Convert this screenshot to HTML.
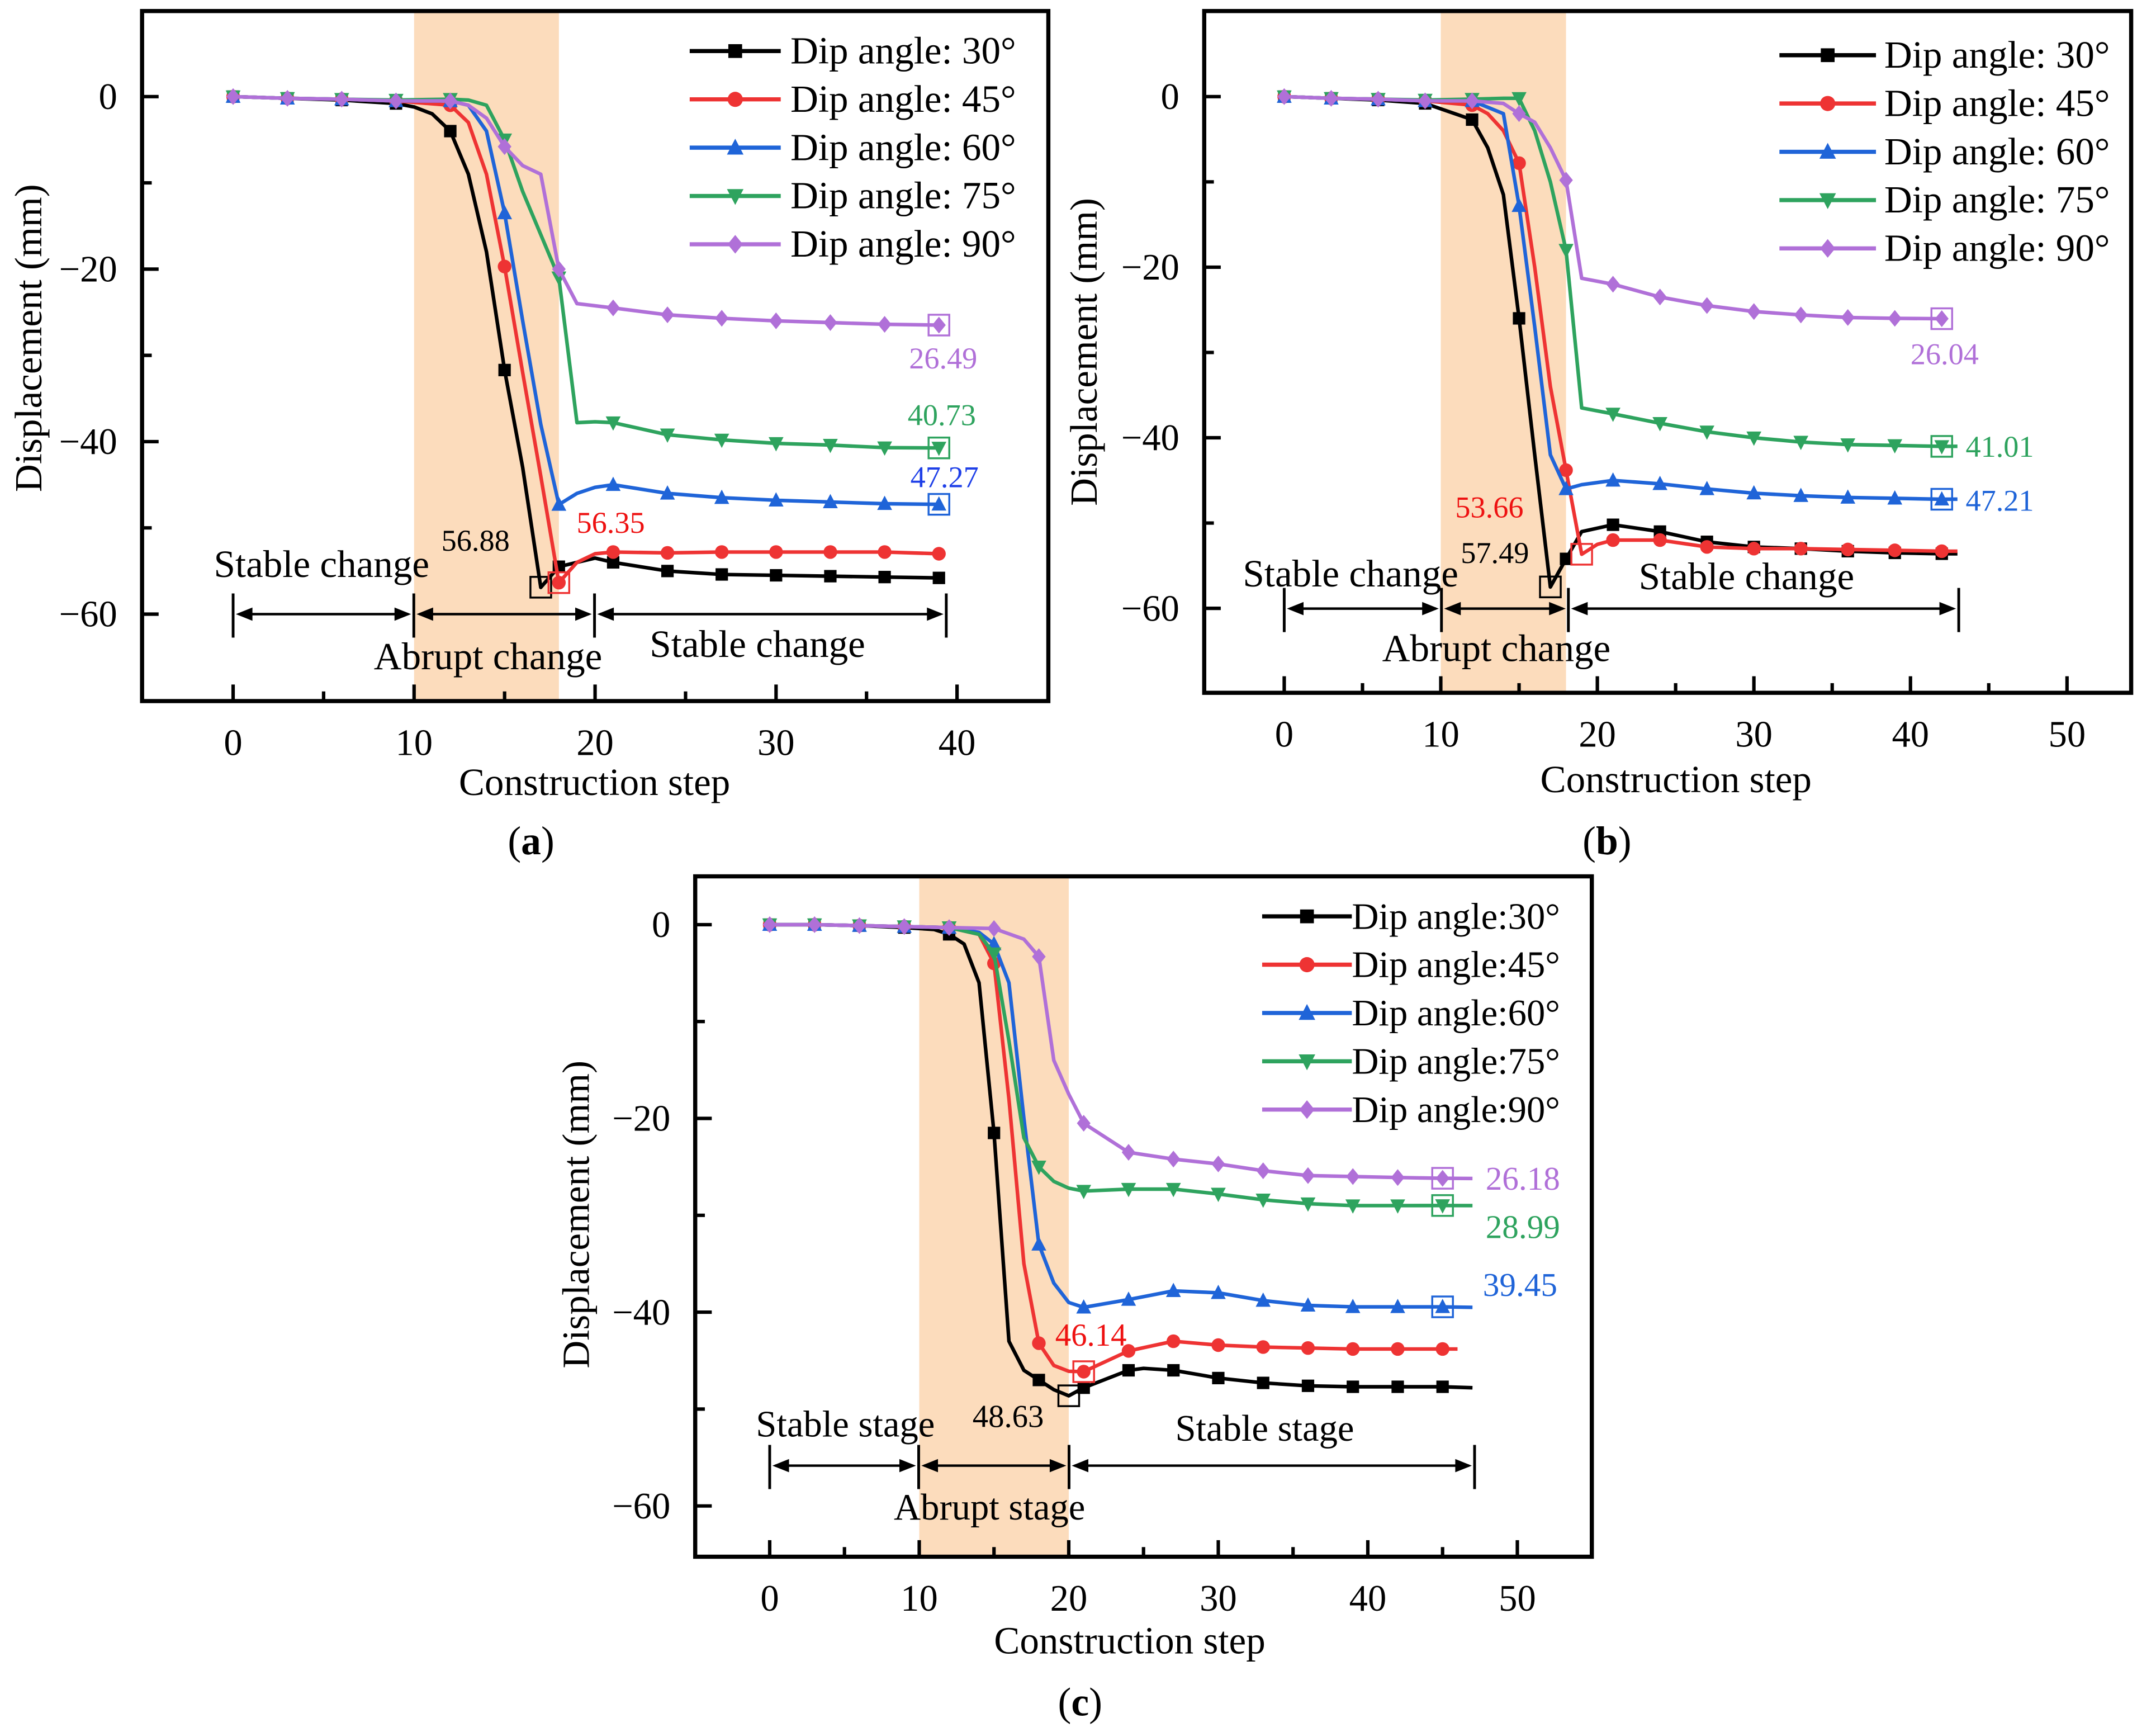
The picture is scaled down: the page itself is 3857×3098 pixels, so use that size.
<!DOCTYPE html>
<html><head><meta charset="utf-8"><style>
html,body{margin:0;padding:0;background:#fff;}
svg{display:block;font-family:"Liberation Serif",serif;}
text{font-family:"Liberation Serif",serif;}
</style></head><body>
<svg id="root" width="3857" height="3098" viewBox="0 0 1563 1255" preserveAspectRatio="none" font-family="Liberation Serif, serif" xmlns="http://www.w3.org/2000/svg"></svg>
<script>
// ---------- DATA ----------
const angleNames = ["30", "45", "60", "75", "90"];
const seriesColors = ["#000000", "#ee3333", "#1f64d8", "#2ea35e", "#b070d8"];
const markerShapes = ["square", "circle", "up", "down", "diamond"];

// panel a
const aSteps30 = [0,3,6,9,10,11,12,13,14,15,16,17,18,19,20,21,24,27,30,33,36,39];
const aVals30  = [0,-0.2,-0.4,-0.8,-1.2,-2,-4,-9,-18,-31.7,-43,-56.9,-54.5,-54,-53.5,-54,-55,-55.4,-55.5,-55.6,-55.7,-55.8];
const aSteps45 = [0,3,6,9,12,13,14,15,16,17,18,19,20,21,24,27,30,33,36,39];
const aVals45  = [0,-0.2,-0.3,-0.5,-1,-3,-9,-19.7,-32,-44,-56.35,-54,-53,-52.8,-52.9,-52.8,-52.8,-52.8,-52.8,-53];
const aSteps60 = [0,3,6,9,12,13,14,15,16,17,18,19,20,21,24,27,30,33,36,39];
const aVals60  = [0,-0.2,-0.3,-0.5,-0.5,-1,-4,-13.5,-26,-38,-47.3,-46,-45.3,-45,-46,-46.5,-46.8,-47,-47.2,-47.27];
const aSteps75 = [0,3,6,9,12,13,14,15,16,17,18,19,20,21,24,27,30,33,36,39];
const aVals75  = [0,-0.2,-0.3,-0.4,-0.3,-0.4,-1,-5,-11,-16,-21,-37.8,-37.7,-37.8,-39.2,-39.8,-40.2,-40.4,-40.7,-40.73];
const aSteps90 = [0,3,6,9,12,13,14,15,16,17,18,19,21,24,27,30,33,36,39];
const aVals90  = [0,-0.2,-0.3,-0.5,-0.5,-1,-2.5,-5.8,-8,-9,-20,-24,-24.5,-25.3,-25.7,-26,-26.2,-26.4,-26.49];

// panel b
const bSteps30 = [0,3,6,9,12,13,14,15,16,17,18,19,21,24,27,30,33,36,39,42,43];
const bVals30  = [0,-0.2,-0.4,-0.8,-2.7,-6,-11.5,-26,-42,-57.5,-54.2,-51,-50.2,-51,-52.2,-52.8,-53,-53.3,-53.5,-53.6,-53.6];
const bSteps45 = [0,3,6,9,12,13,14,15,16,17,18,19,20,21,24,27,30,33,36,39,42,43];
const bVals45  = [0,-0.2,-0.3,-0.5,-1,-2,-4,-7.8,-20,-34,-43.8,-53.66,-52.5,-52,-52,-52.8,-53,-53,-53.1,-53.2,-53.3,-53.3];
const bSteps60 = [0,3,6,9,12,14,15,16,17,18,19,21,24,27,30,33,36,39,42,43];
const bVals60  = [0,-0.2,-0.3,-0.5,-0.5,-2,-12.8,-27,-42,-46,-45.5,-45,-45.4,-46,-46.5,-46.8,-47,-47.1,-47.21,-47.2];
const bSteps75 = [0,3,6,9,12,14,15,16,17,18,19,21,24,27,30,33,36,39,42,43];
const bVals75  = [0,-0.2,-0.3,-0.4,-0.3,-0.2,-0.2,-4,-10,-18,-36.5,-37.2,-38.3,-39.3,-40,-40.5,-40.8,-40.9,-41.01,-41];
const bSteps90 = [0,3,6,9,12,14,15,16,17,18,19,21,24,27,30,33,36,39,42];
const bVals90  = [0,-0.2,-0.3,-0.5,-0.5,-0.8,-2,-3,-6,-9.8,-21.3,-22,-23.5,-24.5,-25.2,-25.6,-25.9,-26,-26.04];

// panel c
const cSteps30 = [0,3,6,9,11,12,13,14,15,16,17,18,19,20,21,24,25,27,30,33,36,39,42,45,47];
const cVals30  = [0,0,-0.1,-0.3,-0.5,-1,-2,-6,-21.5,-43,-46,-47,-48,-48.63,-47.8,-46,-45.8,-46,-46.8,-47.3,-47.6,-47.7,-47.7,-47.7,-47.8];
const cSteps45 = [0,3,6,9,12,14,15,16,17,18,19,20,21,24,27,30,33,36,39,42,45,46];
const cVals45  = [0,0,-0.1,-0.2,-0.3,-1,-4,-18,-35,-43.2,-45.5,-46.1,-46.14,-44,-43,-43.4,-43.6,-43.7,-43.8,-43.8,-43.8,-43.8];
const cSteps60 = [0,3,6,9,12,14,15,16,17,18,19,20,21,24,27,30,33,36,39,42,45,47];
const cVals60  = [0,0,-0.1,-0.2,-0.3,-0.8,-2,-6,-20,-33,-37,-39,-39.5,-38.7,-37.8,-38,-38.8,-39.3,-39.45,-39.45,-39.45,-39.5];
const cSteps75 = [0,3,6,9,12,14,15,16,17,18,19,20,21,24,27,30,33,36,39,42,45,47];
const cVals75  = [0,0,-0.1,-0.2,-0.3,-1,-3,-12,-22,-25,-26.5,-27.2,-27.5,-27.3,-27.3,-27.8,-28.4,-28.8,-29,-29,-28.99,-29];
const cSteps90 = [0,3,6,9,12,15,17,18,19,20,21,24,27,30,33,36,39,42,45,47];
const cVals90  = [0,0,-0.1,-0.2,-0.3,-0.4,-1.5,-3.3,-14,-17.5,-20.5,-23.5,-24.2,-24.7,-25.4,-25.9,-26,-26.1,-26.18,-26.2];

const aXTicks = [0,10,20,30,40];
const bXTicks = [0,10,20,30,40,50];
const cXTicks = [0,10,20,30,40,50];
const yTicks = [0,-20,-40,-60];
const yMinorTicks = [-10,-30,-50];

// ---------- RENDER ----------
const NS = "http://www.w3.org/2000/svg";
const root = document.getElementById("root");
function mk(tag, parent, attrs){ const e=document.createElementNS(NS,tag); for(const k in attrs) e.setAttribute(k,attrs[k]); parent.appendChild(e); return e; }
function txt(parent, s, x, y, size, fill, anchor, name){
  const t=mk("text",parent,{x:x,y:y,"font-size":size,fill:fill||"#000","text-anchor":anchor||"start","font-family":"Liberation Serif, serif"});
  t.textContent=s;
  
  
  return t;
}
function marker(g, shape, x, y, c, s){
  let m;
  if(shape==="square") m=mk("rect",g,{x:x-s,y:y-s,width:2*s,height:2*s,fill:c});
  else if(shape==="circle") m=mk("circle",g,{cx:x,cy:y,r:s*1.1,fill:c});
  else if(shape==="up") m=mk("polygon",g,{points:`${x},${y-s*1.3} ${x-s*1.2},${y+s} ${x+s*1.2},${y+s}`,fill:c});
  else if(shape==="down") m=mk("polygon",g,{points:`${x},${y+s*1.3} ${x-s*1.2},${y-s} ${x+s*1.2},${y-s}`,fill:c});
  else m=mk("polygon",g,{points:`${x},${y-s*1.35} ${x+s*1.1},${y} ${x},${y+s*1.35} ${x-s*1.1},${y}`,fill:c});
  
  
}
function arrow(g, x1, x2, y){
  const h=6;
  mk("line",g,{x1:x1+4,y1:y,x2:x2-4,y2:y,stroke:"#000","stroke-width":1.8});
  mk("polygon",g,{points:`${x1+2},${y} ${x1+2+h*2},${y-h*0.8} ${x1+2+h*2},${y+h*0.8}`,fill:"#000"});
  mk("polygon",g,{points:`${x2-2},${y} ${x2-2-h*2},${y-h*0.8} ${x2-2-h*2},${y+h*0.8}`,fill:"#000"});
}

function panel(P){
  const g=mk("g",root,{});
  
  
  const X=v=>P.x0+v*P.sx, Y=v=>P.y0-v*P.sy;
  const sh=mk("rect",g,{x:X(P.shade[0]),y:P.top,width:X(P.shade[1])-X(P.shade[0]),height:P.bot-P.top,fill:"#fcdcbc"});
  
  
  const ax=mk("g",g,{});
  
  
  P.xt.forEach((v,i)=>{
    mk("line",ax,{x1:X(v),y1:P.bot,x2:X(v),y2:P.bot-12,stroke:"#000","stroke-width":2.5});
    if(i<P.xt.length-1) mk("line",ax,{x1:X(v+5),y1:P.bot,x2:X(v+5),y2:P.bot-7,stroke:"#000","stroke-width":2.5});
    txt(ax,String(v),X(v),P.bot+39,27,"#000","middle","x-tick-label");
  });
  yTicks.forEach(v=>{
    mk("line",ax,{x1:P.left,y1:Y(v),x2:P.left+12,y2:Y(v),stroke:"#000","stroke-width":2.5});
    txt(ax,v===0?"0":"\u2212"+(-v),P.left-18,Y(v)+9,27,"#000","end","y-tick-label");
  });
  yMinorTicks.forEach(v=>{
    mk("line",ax,{x1:P.left,y1:Y(v),x2:P.left+7,y2:Y(v),stroke:"#000","stroke-width":2.5});
  });
  P.series.forEach((s,i)=>{
    const sg=mk("g",g,{});
    
    
    const pts=s[0].map((st,j)=>X(st)+","+Y(s[1][j])).join(" ");
    mk("polyline",sg,{points:pts,fill:"none",stroke:seriesColors[i],"stroke-width":2.6,"stroke-linejoin":"round"});
    s[0].forEach((st,j)=>{ if(st%3===0) marker(sg,markerShapes[i],X(st),Y(s[1][j]),seriesColors[i],4.5); });
  });
  P.boxes.forEach(b=>{
    const r=mk("rect",g,{x:X(b[0])-7.5,y:Y(b[1])-7.5,width:15,height:15,fill:"none",stroke:seriesColors[b[2]],"stroke-width":1.4});
    
    
  });
  const fr=mk("rect",g,{x:P.left,y:P.top,width:P.right-P.left,height:P.bot-P.top,fill:"none",stroke:"#000","stroke-width":3});
  
  
  const lg=mk("g",g,{});
  
  
  angleNames.forEach((n,i)=>{
    const y=P.leg.y+i*P.leg.dy;
    const eg=mk("g",lg,{});
    
    
    mk("line",eg,{x1:P.leg.x1,y1:y,x2:P.leg.x2,y2:y,stroke:seriesColors[i],"stroke-width":3});
    marker(eg,markerShapes[i],(P.leg.x1+P.leg.x2)/2,y,seriesColors[i],5);
    txt(eg,"Dip angle:"+P.leg.sp+n+"\u00b0",P.leg.tx,y+9,P.leg.fs,"#000","start","legend-label");
  });
  const sg=mk("g",g,{});
  
  
  P.bars.forEach(bx=>mk("line",sg,{x1:bx,y1:P.arY-15,x2:bx,y2:P.arY+17,stroke:"#000","stroke-width":2}));
  for(let i=0;i<P.bars.length-1;i++) arrow(sg,P.bars[i],P.bars[i+1],P.arY);
  P.labels.forEach(l=>txt(g,l[0],l[1],l[2],l[3],l[4],"start",l[5]));
  txt(g,"Construction step",P.xtitle[0],P.xtitle[1],28,"#000","middle","x-axis-title");
  const yt=txt(g,"Displacement (mm)",0,0,28,"#000","middle","y-axis-title");
  yt.setAttribute("transform",`translate(${P.ytitle[0]},${P.ytitle[1]}) rotate(-90)`);
  const cap=mk("text",g,{x:P.cap[0],y:P.cap[1],"font-size":29,"text-anchor":"middle","font-family":"Liberation Serif, serif"});
  
  
  cap.innerHTML='(<tspan font-weight="bold">'+P.cap[2]+'</tspan>)';
}

panel({name:"panel-a",left:103,right:760,top:8,bot:508,x0:169,sx:13.12,y0:70,sy:6.25,shade:[10,18],xt:aXTicks,
  series:[[aSteps30,aVals30],[aSteps45,aVals45],[aSteps60,aVals60],[aSteps75,aVals75],[aSteps90,aVals90]],
  boxes:[[17,-56.88,0],[18,-56.35,1],[39,-26.49,4],[39,-40.73,3],[39,-47.27,2]],
  leg:{x1:500,x2:566,tx:573,y:37,dy:35,fs:28,sp:" "},
  bars:[169,300,431,686],arY:445,
  labels:[["Stable change",155,418,28,"#000","stage-label"],["Abrupt change",271,485,28,"#000","stage-label"],["Stable change",471,476,28,"#000","stage-label"],
    ["56.88",320,399,22,"#000","value-label"],["56.35",418,386,22,"#ee1111","value-label"],["26.49",659,267,22,"#b070d8","value-label"],["40.73",658,308,22,"#2ea35e","value-label"],["47.27",660,353,22,"#1f40e8","value-label"]],
  xtitle:[431,576],ytitle:[30,245],cap:[385,619,"a"]});

panel({name:"panel-b",left:873,right:1545,top:8,bot:502,x0:931,sx:11.35,y0:70,sy:6.18,shade:[10,18],xt:bXTicks,
  series:[[bSteps30,bVals30],[bSteps45,bVals45],[bSteps60,bVals60],[bSteps75,bVals75],[bSteps90,bVals90]],
  boxes:[[17,-57.49,0],[19,-53.66,1],[42,-26.04,4],[42,-41.01,3],[42,-47.21,2]],
  leg:{x1:1290,x2:1360,tx:1366,y:40,dy:35,fs:28,sp:" "},
  bars:[931,1045,1137,1420],arY:441,
  labels:[["Stable change",901,425,28,"#000","stage-label"],["Abrupt change",1002,479,28,"#000","stage-label"],["Stable change",1188,427,28,"#000","stage-label"],
    ["53.66",1055,375,22,"#ee1111","value-label"],["57.49",1059,408,22,"#000","value-label"],["26.04",1385,264,22,"#b070d8","value-label"],["41.01",1425,331,22,"#2ea35e","value-label"],["47.21",1425,370,22,"#1f64d8","value-label"]],
  xtitle:[1215,574],ytitle:[795,255],cap:[1165,619,"b"]});

panel({name:"panel-c",left:504,right:1154,top:635,bot:1128,x0:558,sx:10.84,y0:670,sy:7.02,shade:[10,20],xt:cXTicks,
  series:[[cSteps30,cVals30],[cSteps45,cVals45],[cSteps60,cVals60],[cSteps75,cVals75],[cSteps90,cVals90]],
  boxes:[[20,-48.63,0],[21,-46.14,1],[45,-26.18,4],[45,-28.99,3],[45,-39.45,2]],
  leg:{x1:915,x2:980,tx:980,y:664,dy:35,fs:27,sp:""},
  bars:[558,666,775,1069],arY:1062,
  labels:[["Stable stage",548,1041,27,"#000","stage-label"],["Abrupt stage",648,1101,27,"#000","stage-label"],["Stable stage",852,1044,27,"#000","stage-label"],
    ["46.14",765,975,23,"#ee1111","value-label"],["48.63",705,1034,23,"#000","value-label"],["26.18",1077,862,24,"#b070d8","value-label"],["28.99",1077,897,24,"#2ea35e","value-label"],["39.45",1075,939,24,"#1f64d8","value-label"]],
  xtitle:[819,1198],ytitle:[427,880],cap:[783,1243,"c"]});
</script>
</body></html>
